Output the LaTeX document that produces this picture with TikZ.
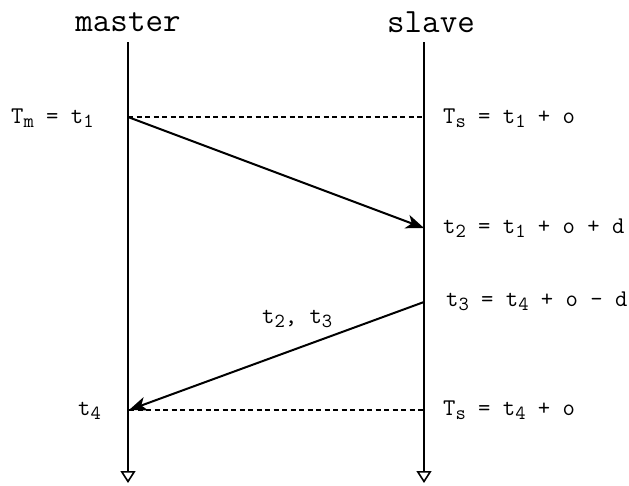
\documentclass[tikz,border=0pt]{standalone}
\usetikzlibrary{arrows.meta}
\newcommand\lowsub[1]{\raisebox{-0.42ex}{\fontsize{20}{20}\selectfont #1}}
\begin{document}
\begin{tikzpicture}[x=1pt,y=-1pt,
  lifeline/.style={line width=2pt,-{Triangle[open,length=12pt,width=15pt,line width=1.6pt]}},
  msg/.style={line width=2pt,-{Stealth[length=18pt,width=14pt,inset=5pt]}},
  sync/.style={line width=1.7pt,dash pattern=on 5pt off 3.5pt},
  title/.style={font=\ttfamily\fontsize{34}{36}\selectfont,inner sep=0pt},
  lbl/.style={font=\ttfamily\fontsize{24}{26}\selectfont,inner sep=0pt,anchor=base west}]
\useasboundingbox (0,0) rectangle (629,485);
% lifeline end points
\coordinate (mtop) at (128,42);
\coordinate (mbot) at (128,483);
\coordinate (stop) at (424,42);
\coordinate (sbot) at (424,483);
% event points
\coordinate (m1) at (128,117);
\coordinate (s1) at (424,117);
\coordinate (s2) at (424,228);
\coordinate (s3) at (424,302);
\coordinate (m4) at (129,410);
\coordinate (s4) at (424,410);
% titles
\node[title] (tmaster) at (128,22) {master};
\node[title] (tslave) at (431,22) {slave};
% lifelines
\draw[lifeline] (mtop) -- (mbot);
\draw[lifeline] (stop) -- (sbot);
% sync lines
\draw[sync] (m1) -- (s1);
\draw[sync] (m4) -- (s4);
% messages
\draw[msg] (m1) -- (s2);
\draw[msg] (s3) -- (m4);
% labels
\node[lbl] (lm1) at (11,123) {T\lowsub{m} = t\lowsub{1}};
\node[lbl] (ls1) at (443,123) {T\lowsub{s} = t\lowsub{1} + o};
\node[lbl] (ls2) at (443,233) {t\lowsub{2} = t\lowsub{1} + o + d};
\node[lbl] (ls3) at (446,306) {t\lowsub{3} = t\lowsub{4} + o - d};
\node[lbl] (lmsg) at (262,323) {t\lowsub{2}, t\lowsub{3}};
\node[lbl] (lm4) at (78,415) {t\lowsub{4}};
\node[lbl] (ls4) at (443,415) {T\lowsub{s} = t\lowsub{4} + o};
\end{tikzpicture}
\end{document}
